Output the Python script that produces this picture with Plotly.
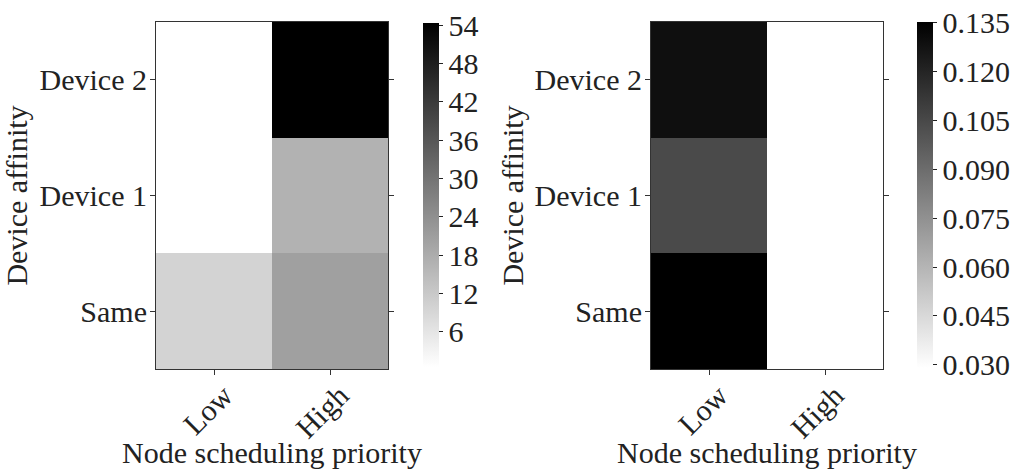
import plotly.graph_objects as go

# Data
priorities = ["Low", "High"]
affinities = ["Same", "Device 1", "Device 2"]  # bottom to top

# left panel: rows = affinities (Same, Device 1, Device 2), cols = (Low, High)
left_same = [9.8, 20.6]
left_dev1 = [0.5, 16.8]
left_dev2 = [0.5, 54.35]

# right panel
right_same = [0.1352, 0.029]
right_dev1 = [0.1044, 0.029]
right_dev2 = [0.1290, 0.029]

left_ticks = [6, 12, 18, 24, 30, 36, 42, 48, 54]
right_ticks = [0.030, 0.045, 0.060, 0.075, 0.090, 0.105, 0.120, 0.135]

x_title = "Node scheduling priority"
y_title = "Device affinity"

W, H = 1014, 469
FONT = "Liberation Serif"
TXT = "#222222"
FS = 30

scale = [[0, "#ffffff"], [1, "#000000"]]

def px_x(p):
    return p / W

def px_y(p):
    return 1 - p / H

fig = go.Figure()

fig.add_trace(go.Heatmap(
    x=priorities, y=affinities,
    z=[left_same, left_dev1, left_dev2],
    colorscale=scale, xaxis="x", yaxis="y",
    colorbar=dict(
        x=px_x(423), xanchor="left", xpad=0, ypad=0,
        y=px_y(367), yanchor="bottom", len=(367 - 23) / H, lenmode="fraction",
        thickness=16, outlinewidth=0,
        tickvals=left_ticks, ticks="outside", ticklen=4, tickcolor=TXT,
        tickfont=dict(family=FONT, size=FS, color=TXT),
    ),
))

fig.add_trace(go.Heatmap(
    x=priorities, y=affinities,
    z=[right_same, right_dev1, right_dev2],
    colorscale=scale, xaxis="x2", yaxis="y2",
    colorbar=dict(
        x=px_x(917), xanchor="left", xpad=0, ypad=0,
        y=px_y(368), yanchor="bottom", len=(368 - 22) / H, lenmode="fraction",
        thickness=16, outlinewidth=0,
        tickvals=right_ticks, tickformat=".3f", ticks="outside", ticklen=4, tickcolor=TXT,
        tickfont=dict(family=FONT, size=FS, color=TXT),
    ),
))

ydom = [px_y(369), px_y(22)]
xdom1 = [px_x(156), px_x(388)]
xdom2 = [px_x(651), px_x(883)]

axis_common = dict(
    showline=True, linecolor="#333333", linewidth=1,
    ticks="outside", ticklen=5, tickcolor="#333333",
    tickfont=dict(family=FONT, size=FS, color=TXT),
    showgrid=False, zeroline=False, fixedrange=True, automargin=False,
)

xt = dict(mirror=True, tickangle=-45, ticklabelshift=10, ticklabelstandoff=-9)
yt = dict(mirror="ticks", ticklabelstandoff=-3)

fig.update_layout(
    width=W, height=H, autosize=False,
    margin=dict(l=0, r=0, t=0, b=0),
    paper_bgcolor="white", plot_bgcolor="white",
    font=dict(family=FONT, size=FS, color=TXT),
    xaxis=dict(domain=xdom1, anchor="y", **xt, **axis_common),
    yaxis=dict(domain=ydom, anchor="x",
               title=dict(text=y_title, standoff=6,
                          font=dict(family=FONT, size=FS, color=TXT)),
               **yt, **axis_common),
    xaxis2=dict(domain=xdom2, anchor="y2", **xt, **axis_common),
    yaxis2=dict(domain=ydom, anchor="x2",
                title=dict(text=y_title, standoff=2,
                           font=dict(family=FONT, size=FS, color=TXT)),
                **yt, **axis_common),
)

for dom in (xdom1, xdom2):
    fig.add_annotation(
        text=x_title, xref="paper", yref="paper",
        x=(dom[0] + dom[1]) / 2, y=px_y(434), xanchor="center", yanchor="top",
        showarrow=False, font=dict(family=FONT, size=FS, color=TXT),
    )

fig.write_html("out.html", config={"displayModeBar": False},
               post_script="document.body.style.margin='0';")
